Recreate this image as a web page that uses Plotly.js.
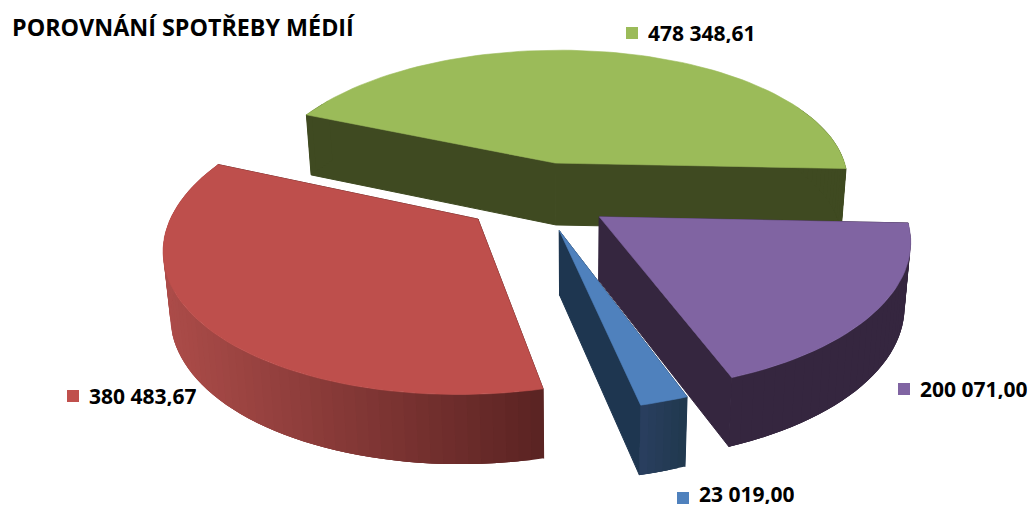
<!DOCTYPE html>
<html>
<head>
<meta charset="utf-8">
<script src="https://cdn.plot.ly/plotly-3.0.1.min.js"></script>
<style>html,body{margin:0;padding:0;background:#fff}#chart{width:1029px;height:508px}</style>
</head>
<body>
<div id="chart"></div>
<script>
// Data, clockwise from the first slice
const categories = ['zelená', 'fialová', 'modrá', 'červená'];
const values = [478348.61, 200071.00, 23019.00, 380483.67];
const valueLabels = ['478 348,61', '200 071,00', '23 019,00', '380 483,67'];
const titleText = 'POROVNÁNÍ SPOTŘEBY MÉDIÍ';

// Styles
const topColors = ['#9BBB59', '#8064A2', '#4F81BD', '#BE4F4C'];
const wallColors = ['#3F4A21', '#35263F', '#1E3650', '#5A2322'];
const rimRamp = [
  [[63,74,33],[63,74,33]],
  [[53,38,63],[53,38,63]],
  [[42,63,95],[32,56,78]],
  [[172,76,73],[90,35,34]]
];
const labelAnchors = [[632,33],[904,389],[683,498],[73,396]];
const labelNudgeY = [0, 0, -4, 0];
const drawOrder = [0, 3, 1, 2];

// Projection of the tilted pie (plot units are pixels)
const ox = 538, oy = 196, R = 300, A = 140, P = 0.156, EXPLODE = 0.25, SHEAR = 7;
const DEPTH = 63, SHRINK = 0.982, SHRINK_X = 570;
const START_DEG = -66.8;

const total = values.reduce((a, b) => a + b, 0);
function project(X, Y, low) {
  const w = 1 - P * Y;
  let sx = ox + (R * X - SHEAR * Y) / w, sy = oy + A * Y / w;
  if (low) { sx = SHRINK_X + (sx - SHRINK_X) * SHRINK; sy += DEPTH / Math.sqrt(w); }
  return [sx, sy];
}
const rad = d => d * Math.PI / 180;
const traces = [];
function poly(pts, color, lineWidth) {
  traces.push({
    type: 'scatter', mode: 'lines', fill: 'toself', fillcolor: color,
    x: pts.map(p => p[0]), y: pts.map(p => p[1]),
    line: {color: color, width: lineWidth}, hoverinfo: 'skip', showlegend: false
  });
}
let cursor = START_DEG;
const slices = values.map(v => {
  const sweep = v / total * 360, s = {a0: cursor, a1: cursor + sweep};
  cursor += sweep;
  const mid = rad((s.a0 + s.a1) / 2);
  s.cx = EXPLODE * Math.sin(mid);
  s.cy = -EXPLODE * Math.cos(mid);
  return s;
});
drawOrder.forEach(i => {
  const s = slices[i];
  const pt = (deg, low) => project(s.cx + Math.sin(rad(deg)), s.cy - Math.cos(rad(deg)), low);
  const c0 = project(s.cx, s.cy, false), c1 = project(s.cx, s.cy, true);
  const n = Math.max(6, Math.round((s.a1 - s.a0) / 2));
  const degs = Array.from({length: n + 1}, (_, k) => s.a0 + (s.a1 - s.a0) * k / n);
  // radial walls
  poly([c0, pt(s.a0,false), pt(s.a0,true), c1, c0], wallColors[i], 1);
  poly([c0, pt(s.a1,false), pt(s.a1,true), c1, c0], wallColors[i], 1);
  // outer rim, shaded by screen position; every strip runs under the next one so no seams show
  const xs = degs.map(d => pt(d,false)[0]);
  const xmin = Math.min(...xs), xmax = Math.max(...xs);
  const order = Array.from({length: n}, (_, k) => k);
  order.forEach(k => {
    const a = degs[k], b = degs[k+1], far = degs[Math.min(n, k+3)];
    if (Math.cos(rad((a + b) / 2)) > 0.45) return;
    const f = ((pt(a,false)[0] + pt(b,false)[0]) / 2 - xmin) / Math.max(1, xmax - xmin);
    const [c, d] = rimRamp[i];
    const col = 'rgb(' + c.map((v, j) => Math.round(v + (d[j] - v) * f)).join(',') + ')';
    poly([pt(a,false), pt(b,false), pt(far,false), pt(far,true), pt(b,true), pt(a,true), pt(a,false)], col, 0);
  });
  // top face
  poly([c0].concat(degs.map(d => pt(d,false)), [c0]), topColors[i], 0.6);
});
// legend squares
traces.push({
  type: 'scatter', mode: 'markers',
  x: labelAnchors.map(p => p[0]), y: labelAnchors.map(p => p[1]),
  marker: {symbol: 'square', size: 12, color: ['#9BBB59', '#8064A2', '#4F81BD', '#C0504D']},
  hoverinfo: 'skip', showlegend: false
});
const annotations = valueLabels.map((t, i) => ({
  text: '<b>' + t + '</b>', xref: 'x', yref: 'y',
  x: labelAnchors[i][0] + 14, y: labelAnchors[i][1] + labelNudgeY[i],
  xanchor: 'left', yanchor: 'middle', showarrow: false, height: 20,
  font: {family: 'Open Sans, sans-serif', size: 21, color: '#000'}
}));
Plotly.newPlot('chart', traces, {
  width: 1029, height: 508,
  margin: {l: 0, r: 0, t: 0, b: 0},
  paper_bgcolor: '#fff', plot_bgcolor: '#fff',
  showlegend: false,
  title: {
    text: '<b>' + titleText + '</b>', x: 12 / 1029, xanchor: 'left',
    y: 1 - 28 / 508, yanchor: 'middle',
    font: {family: 'Open Sans, sans-serif', size: 23.3, color: '#000'}
  },
  xaxis: {visible: false, range: [0, 1029], fixedrange: true},
  yaxis: {visible: false, range: [508, 0], fixedrange: true},
  annotations: annotations
}, {displayModeBar: false, staticPlot: true});
</script>
</body>
</html>
